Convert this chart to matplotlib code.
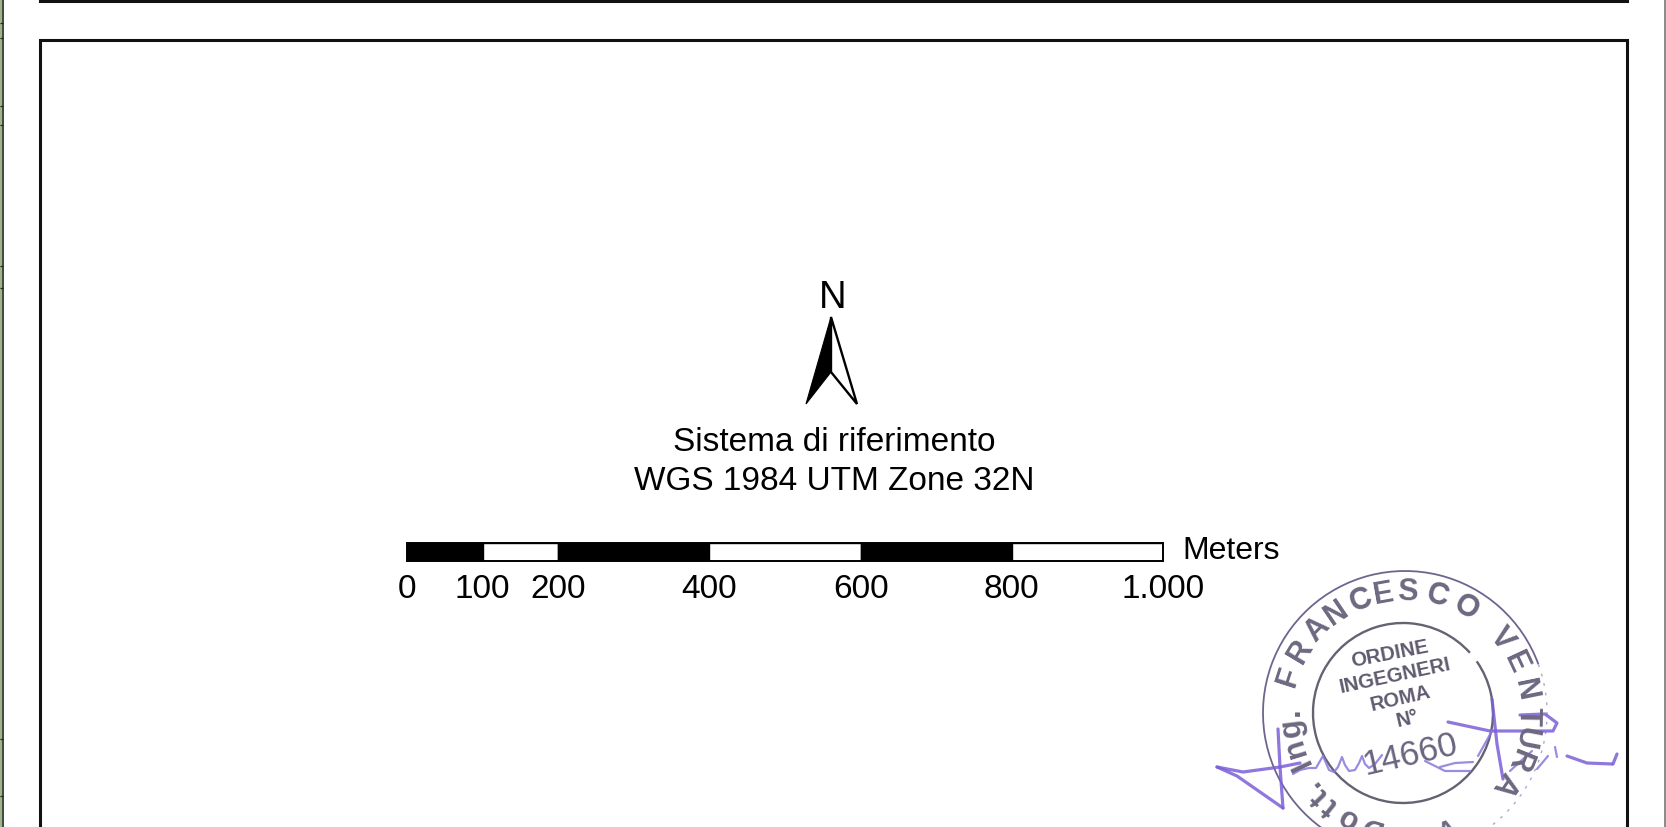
import numpy as np
import matplotlib
matplotlib.use("Agg")
import matplotlib.pyplot as plt
from matplotlib.patches import Rectangle, Polygon, Arc

plt.rcParams['font.family'] = ['Liberation Sans', 'DejaVu Sans']

# Scale bar
scale_ticks = [0, 100, 200, 400, 600, 800, 1000]
scale_labels = ['0', '100', '200', '400', '600', '800', '1.000']
scale_fills = ['black', 'white', 'black', 'white', 'black', 'white']
scale_unit = 'Meters'

# Titles
north_label = 'N'
ref_lines = ['Sistema di riferimento', 'WGS 1984 UTM Zone 32N']

# Stamp ring text: letter, angle on ring (degrees), radius
ring_letters = ['F','R','A','N','C','E','S','C','O','V','E','N','T','U','R','A',
                'I','n','g','.','D','o','t','t','.']
ring_angles = [162,149,136,124,111,100,88.6,74.5,60,38,25,11.5,-1,-11,-22,-35,
               205,197,187,179,253,241,231,224,217.5]
ring_radii = [122]*16 + [114]*4 + [118]*5
stamp_inner = [('ORDINE', 1390, 654, 11), ('INGEGNERI', 1395, 676, 12),
               ('ROMA', 1400, 699, 13), ('N°', 1407, 719, 13)]
stamp_number = '14660'

# Signature strokes
sig_main = [[(1217,768),(1243,773),(1280,768),(1300,764)],
            [(1217,768),(1237,777),(1283,809)],
            [(1278,730),(1280,768),(1283,809)],
            [(1448,723),(1490,732),(1553,732),(1557,724),(1545,715),(1520,716)],
            [(1492,700),(1497,745),(1503,780)],
            [(1612,765),(1587,764),(1567,757)],
            [(1613,765),(1617,755)]]
sig_thin = [[(1293,775),(1300,771),(1309,769),(1316,769),(1320,762),(1323,757),(1326,764),
             (1329,771),(1334,773),(1338,768),(1342,758),(1345,766),(1349,772),(1355,771),
             (1359,764),(1362,757),(1365,765),(1369,769),(1375,765),(1382,756)],
            [(1440,768),(1455,764),(1473,763)],
            [(1425,762),(1445,772),(1470,772)],
            [(1492,732),(1478,757)],
            [(1555,748),(1557,758)],
            [(1537,770),(1548,757)],
            [(1510,772),(1523,760),(1532,752)]]

fig = plt.figure(figsize=(16.66, 8.28), dpi=100, facecolor='white')
ax = fig.add_axes([0, 0, 1, 1])
ax.set_xlim(0, 1666)
ax.set_ylim(828, 0)
ax.axis('off')

# Page frames
ax.plot([40, 40, 1627, 1627], [840, 40.5, 40.5, 840], color='#111111', lw=2.2, solid_joinstyle='miter')
ax.plot([40, 40, 1627, 1627], [-5, 1.5, 1.5, -5], color='#111111', lw=2.2, solid_joinstyle='miter')
ax.add_patch(Rectangle((0, 0), 2, 828, fc='#9db48c', ec='none'))
ax.plot([2.6, 2.6], [0, 828], color='#1c2a18', lw=1.2)
ax.hlines([24, 39, 107, 126, 267, 289, 740, 797], 0, 3, color='#1c2a18', lw=0.9)
ax.plot([1665, 1665], [0, 828], color='#8a8a8a', lw=1.4)

# North arrow
ax.text(833, 298, north_label, fontsize=27.5, ha='center', va='center', color='black')
ax.add_patch(Polygon([(831, 318), (806, 405), (831, 373)], fc='black', ec='black', lw=0.8))
ax.add_patch(Polygon([(831, 318), (857, 405), (831, 373)], fc='white', ec='black', lw=1.7, joinstyle='miter'))

# Reference system
ax.text(834, 443, ref_lines[0], fontsize=24, ha='center', va='center', color='black')
ax.text(834, 482, ref_lines[1], fontsize=24, ha='center', va='center', color='black')

# Scale bar axes: 0 to 1000 m spans 407-1163 px
sb = fig.add_axes([407/1666, 1-562/828, (1163-407)/1666, (562-544)/828])
sb.set_xlim(0, 1000)
sb.set_ylim(0, 1)
sb.barh(0.5, np.diff(scale_ticks), left=scale_ticks[:-1], height=1,
        color=scale_fills, edgecolor='black', linewidth=1.0)
sb.set_yticks([])
sb.set_xticks(scale_ticks)
sb.set_xticklabels(scale_labels, fontsize=24)
sb.tick_params(axis='x', length=0, pad=9)
for s in sb.spines.values():
    s.set_linewidth(1.4)
ax.text(1182, 551, scale_unit, fontsize=23, ha='left', va='center', color='black')

# Stamp (y axis is inverted, so arc angles run clockwise on screen)
cx, cy, R_out, R_in, R_txt = 1405, 714, 142, 90, 122
ink = '#6d6880'
ax.add_patch(Arc((cx, cy), 2*R_out, 2*R_out, theta1=-245, theta2=-20, color='#6f6490', lw=1.3))
ax.add_patch(Arc((cx, cy), 2*R_out, 2*R_out, theta1=-20, theta2=75, color='#b0a8ca', lw=1.0, ls=(0, (2, 5))))
ax.add_patch(Arc((cx-2, cy), 2*R_in, 2*R_in, theta1=-395, theta2=-42, color='#666273', lw=1.7))
for ch, ang, r in zip(ring_letters, ring_angles, ring_radii):
    t = np.radians(ang)
    ax.text(cx + r*np.cos(t), cy - r*np.sin(t), ch, fontsize=22, fontweight='bold',
            color=ink, ha='center', va='center', rotation=ang-90, rotation_mode='anchor')
ax.text(1447, 831, 'A', fontsize=18, fontweight='bold', color=ink, ha='center', va='center', rotation=20)
for s, x, y, rot in stamp_inner:
    ax.text(x, y, s, fontsize=14.5, fontweight='bold', color='#5f5a6e', ha='center', va='center',
            rotation=rot, rotation_mode='anchor')
ax.text(1410, 755, stamp_number, fontsize=25, color='#6a657f', ha='center', va='center',
        rotation=13, rotation_mode='anchor')

# Signature
for stroke in sig_main:
    xs, ys = zip(*stroke)
    ax.plot(xs, ys, color='#7b5fd8', lw=2.3, alpha=0.85, solid_capstyle='round', solid_joinstyle='round')
for stroke in sig_thin:
    xs, ys = zip(*stroke)
    ax.plot(xs, ys, color='#8b78dc', lw=1.6, alpha=0.85, solid_capstyle='round', solid_joinstyle='round')

fig.savefig('out.png', dpi=100)
